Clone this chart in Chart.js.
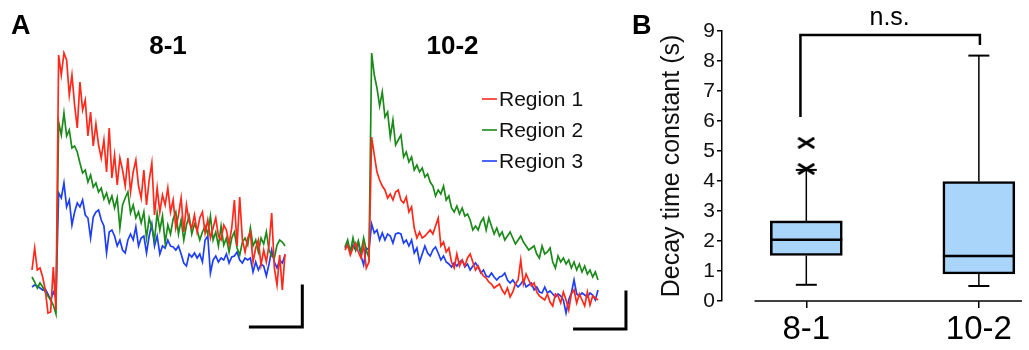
<!DOCTYPE html>
<html>
<head>
<meta charset="utf-8">
<script src="https://cdn.jsdelivr.net/npm/chart.js@4.4.0/dist/chart.umd.min.js"></script>
<style>
  body { margin: 0; background: #fff; }
  #wrap { position: relative; width: 1029px; height: 350px; }
  canvas { position: absolute; top: 0; }
</style>
</head>
<body>
<div id="wrap">
  <canvas id="a1" width="320" height="350" style="left:0"></canvas>
  <canvas id="a2" width="308" height="350" style="left:320px"></canvas>
  <canvas id="b" width="401" height="350" style="left:628px"></canvas>
</div>
<script>
// ---- Panel A: fluorescence traces (arbitrary units), one value per frame ----
const frames = Array.from({ length: 96 }, (_, i) => i);
const regionNames = ['Region 1', 'Region 2', 'Region 3'];
const regionColors = ['#ff2a1c', '#1b8a1b', '#1f3ff5'];

const r81 = [50,72,50,52,43,30,7,8,53,10,
  265,245,267,260,225,245,215,192,238,210,
  220,184,208,174,196,175,162,180,148,192,
  142,165,135,162,150,134,162,128,148,160,
  134,122,150,115,140,157,105,132,108,125,
  115,132,108,120,92,105,122,88,115,98,
  92,105,88,102,108,87,100,82,92,102,
  84,80,95,90,76,92,120,74,123,80,
  68,82,88,58,72,80,55,70,58,75,
  107,52,35,65,30,66];
const g81 = [43,38,32,37,33,28,24,20,15,6,
  198,185,207,184,190,172,174,168,157,147,
  150,138,145,133,137,128,132,121,127,117,
  124,112,122,92,115,122,128,107,115,102,
  108,97,108,82,102,92,80,107,90,104,
  77,95,86,101,108,86,100,80,95,104,
  86,96,90,80,88,94,86,104,80,88,
  74,94,75,82,68,82,88,72,65,78,
  82,75,92,74,80,68,82,76,88,70,
  64,62,75,80,78,74];
const b81 = [33,35,34,32,30,31,26,20,28,22,
  127,122,137,113,120,95,108,117,113,120,
  105,102,82,103,108,110,100,94,67,88,
  90,84,74,80,70,67,80,86,80,93,
  74,82,84,67,84,96,74,84,66,74,
  72,80,74,73,70,74,66,57,54,66,
  63,67,62,66,58,80,84,47,60,64,
  58,62,60,66,57,63,64,68,60,57,
  62,60,62,48,58,50,56,54,44,56,
  70,58,52,60,57,65];

const r102 = [70,75,65,72,77,68,62,75,52,58,
  183,165,148,140,134,130,122,126,120,128,
  130,120,117,123,108,113,92,82,88,82,
  84,87,90,86,94,102,74,78,68,72,
  58,52,66,54,60,54,62,66,58,50,
  54,48,44,42,38,36,32,34,36,30,
  26,32,23,28,36,40,60,36,46,40,
  34,37,28,24,22,20,26,18,14,26,
  24,17,28,20,10,26,30,17,26,20,
  14,28,15,24,22,20];
const g102 = [73,80,68,82,70,79,67,82,70,62,
  267,245,232,214,228,203,208,183,200,175,
  180,185,163,168,158,163,150,155,148,152,
  143,146,138,134,124,130,126,134,120,124,
  112,108,114,106,112,104,106,100,90,94,
  90,98,102,90,102,94,86,92,84,88,
  80,84,88,82,76,80,84,78,74,70,
  72,74,66,62,74,66,68,72,58,52,
  64,58,62,56,60,52,58,50,56,48,
  54,46,50,43,48,40];
const b102 = [72,76,68,75,70,78,64,55,72,70,
  96,87,90,80,87,80,86,84,77,86,
  87,86,77,80,74,80,67,72,58,66,
  74,67,64,70,73,67,60,64,58,56,
  53,57,54,58,60,53,56,50,54,57,
  53,47,50,44,43,47,43,40,43,44,
  47,40,37,40,36,33,36,40,33,35,
  37,30,33,28,27,33,27,29,26,23,
  26,24,20,7,20,27,40,26,24,27,
  25,23,27,25,20,30];

// ---- Panel B: decay time constants (s) ----
const groups = ['8-1', '10-2'];
const whiskerLow = [0.54, 0.5];
const q1 = [1.52, 0.9];
const median = [2.04, 1.5];
const q3 = [2.67, 3.98];
const whiskerHigh = [4.37, 8.18];
const outliers81 = [4.4, 5.27];

Chart.defaults.font.family = '"Liberation Sans", Arial, Helvetica, sans-serif';
Chart.defaults.color = '#000';

const FONT = '"Liberation Sans", Arial, Helvetica, sans-serif';

// title, scale bar, panel letter, optional legend
function tracePlugin(title, titleX, bar, letter, legend) {
  return {
    id: 'traceExtras',
    afterDraw(chart) {
      const { ctx, scales: { x, y } } = chart;
      ctx.save();
      ctx.fillStyle = '#000';
      ctx.textAlign = 'center';
      ctx.textBaseline = 'middle';
      ctx.font = 'bold 26px ' + FONT;
      ctx.fillText(title, titleX, 47);
      if (letter) {
        ctx.textAlign = 'left';
        ctx.textBaseline = 'alphabetic';
        ctx.font = 'bold 27px ' + FONT;
        ctx.fillText(letter, 11, 34);
      }
      // scale bar
      const x0 = x.getPixelForValue(bar.x - bar.dx);
      const x1 = x.getPixelForValue(bar.x);
      const yb = y.getPixelForValue(bar.y);
      const yt = y.getPixelForValue(bar.y + bar.dy);
      ctx.strokeStyle = '#000';
      ctx.lineWidth = 3;
      ctx.lineCap = 'square';
      ctx.beginPath();
      ctx.moveTo(x0, yb);
      ctx.lineTo(x1, yb);
      ctx.lineTo(x1, yt);
      ctx.stroke();
      if (legend) {
        ctx.lineCap = 'butt';
        ctx.font = '21px ' + FONT;
        ctx.textAlign = 'left';
        ctx.textBaseline = 'middle';
        chart.data.datasets.forEach((ds, i) => {
          const ly = legend.y + i * legend.gap;
          ctx.strokeStyle = ds.borderColor;
          ctx.lineWidth = 1.6;
          ctx.beginPath();
          ctx.moveTo(legend.x, ly);
          ctx.lineTo(legend.x + 15, ly);
          ctx.stroke();
          ctx.fillStyle = '#111';
          ctx.fillText(ds.label, legend.x + 17, ly + 1);
        });
      }
      ctx.restore();
    }
  };
}

function traceChart(id, series, padding, plugin) {
  return new Chart(document.getElementById(id), {
    type: 'line',
    data: {
      labels: frames,
      datasets: series.map((d, i) => ({
        label: regionNames[i],
        data: d,
        borderColor: regionColors[i],
        borderWidth: 1.7,
        pointRadius: 0,
        tension: 0,
        clip: false
      }))
    },
    options: {
      responsive: false,
      animation: false,
      events: [],
      layout: { padding: padding },
      plugins: { legend: { display: false }, tooltip: { enabled: false } },
      scales: {
        x: { type: 'category', display: false, offset: false },
        y: { display: false, min: -20, max: 280 }
      }
    },
    plugins: [plugin]
  });
}

traceChart('a1', [r81, g81, b81], { left: 32, right: 35, top: 40, bottom: 10 },
  tracePlugin('8-1', 168, { x: 101.5, dx: 19.5, y: -7, dy: 41 }, 'A', null));
traceChart('a2', [r102, g102, b102], { left: 25, right: 30, top: 40, bottom: 10 },
  tracePlugin('10-2', 132.5, { x: 105.5, dx: 19.3, y: -9, dy: 37 }, null, { x: 162, y: 99, gap: 31 }));

// ---- Box plot ----
function makeCross(w, h) {
  const c = document.createElement('canvas');
  c.width = w; c.height = h;
  const g = c.getContext('2d');
  g.strokeStyle = '#000';
  g.lineWidth = 2.8;
  g.beginPath();
  g.moveTo(1, 1); g.lineTo(w - 1, h - 1);
  g.moveTo(w - 1, 1); g.lineTo(1, h - 1);
  g.stroke();
  return c;
}

const boxParts = {
  id: 'boxParts',
  beforeDatasetsDraw(chart) {
    const { ctx, scales: { x, y } } = chart;
    ctx.save();
    ctx.strokeStyle = '#000';
    groups.forEach((g, i) => {
      const px = x.getPixelForValue(i + 1);
      ctx.lineWidth = 1.5;
      ctx.beginPath();
      ctx.moveTo(px, y.getPixelForValue(whiskerLow[i]));
      ctx.lineTo(px, y.getPixelForValue(q1[i]));
      ctx.moveTo(px, y.getPixelForValue(q3[i]));
      ctx.lineTo(px, y.getPixelForValue(whiskerHigh[i]));
      ctx.stroke();
      ctx.lineWidth = 2;
      [whiskerLow[i], whiskerHigh[i]].forEach(v => {
        const py = y.getPixelForValue(v);
        ctx.beginPath();
        ctx.moveTo(px - 10.5, py);
        ctx.lineTo(px + 10.5, py);
        ctx.stroke();
      });
    });
    ctx.restore();
  },
  afterDatasetsDraw(chart) {
    const { ctx, chartArea, scales: { x, y } } = chart;
    ctx.save();
    ctx.strokeStyle = '#000';
    // medians
    ctx.lineWidth = 2.6;
    chart.getDatasetMeta(0).data.forEach((bar, i) => {
      const py = y.getPixelForValue(median[i]);
      ctx.beginPath();
      ctx.moveTo(bar.x - bar.width / 2, py);
      ctx.lineTo(bar.x + bar.width / 2, py);
      ctx.stroke();
    });
    // x baseline (starts right of the y axis)
    ctx.lineWidth = 1.5;
    ctx.beginPath();
    ctx.moveTo(x.getPixelForValue(0.7), y.getPixelForValue(0));
    ctx.lineTo(chartArea.right, y.getPixelForValue(0));
    ctx.stroke();
    // significance bracket
    const top = y.getPixelForValue(8.87);
    ctx.lineWidth = 2.5;
    ctx.beginPath();
    ctx.moveTo(x.getPixelForValue(0.966), y.getPixelForValue(6.13));
    ctx.lineTo(x.getPixelForValue(0.966), top);
    ctx.lineTo(x.getPixelForValue(2.006), top);
    ctx.lineTo(x.getPixelForValue(2.006), y.getPixelForValue(8.53));
    ctx.stroke();
    ctx.fillStyle = '#000';
    ctx.textAlign = 'center';
    ctx.textBaseline = 'alphabetic';
    ctx.font = '25px ' + FONT;
    ctx.fillText('n.s.', x.getPixelForValue(1.483), top - 10);
    ctx.textAlign = 'left';
    ctx.font = 'bold 27px ' + FONT;
    ctx.fillText('B', 4, 34);
    ctx.restore();
  }
};

new Chart(document.getElementById('b'), {
  type: 'bar',
  data: {
    datasets: [{
      data: groups.map((g, i) => ({ x: i + 1, y: [q1[i], q3[i]] })),
      backgroundColor: '#a9d5fb',
      borderColor: '#000',
      borderWidth: 2.6,
      borderSkipped: false,
      barThickness: 72
    }, {
      type: 'scatter',
      data: outliers81.map(v => ({ x: 1, y: v })),
      pointStyle: makeCross(18, 12),
      pointRadius: 6
    }]
  },
  options: {
    responsive: false,
    animation: false,
    events: [],
    layout: { padding: { left: 0, right: 1, top: 31, bottom: 0 } },
    plugins: { legend: { display: false }, tooltip: { enabled: false } },
    scales: {
      x: {
        type: 'linear',
        offset: false,
        min: 0.5114,
        max: 2.25,
        afterBuildTicks: axis => { axis.ticks = [{ value: 1 }, { value: 2 }]; },
        afterFit: axis => { axis.height = 49; },
        border: { display: false },
        grid: { offset: false, drawOnChartArea: false, color: '#000', lineWidth: 1.5, tickLength: 7 },
        ticks: {
          autoSkip: false,
          padding: 2,
          font: { size: 33 },
          color: '#000',
          callback: v => groups[v - 1]
        }
      },
      y: {
        min: 0,
        max: 9,
        afterFit: axis => { axis.width = 94; },
        border: { display: true, color: '#000', width: 1.5 },
        grid: { drawOnChartArea: false, color: '#000', lineWidth: 1.5, tickLength: 5 },
        ticks: { stepSize: 1, padding: 2, font: { size: 21 }, color: '#111' },
        title: {
          display: true,
          text: 'Decay time constant (s)',
          font: { size: 25 },
          color: '#111',
          padding: { top: 29, bottom: 0 }
        }
      }
    }
  },
  plugins: [boxParts]
});
</script>
</body>
</html>
